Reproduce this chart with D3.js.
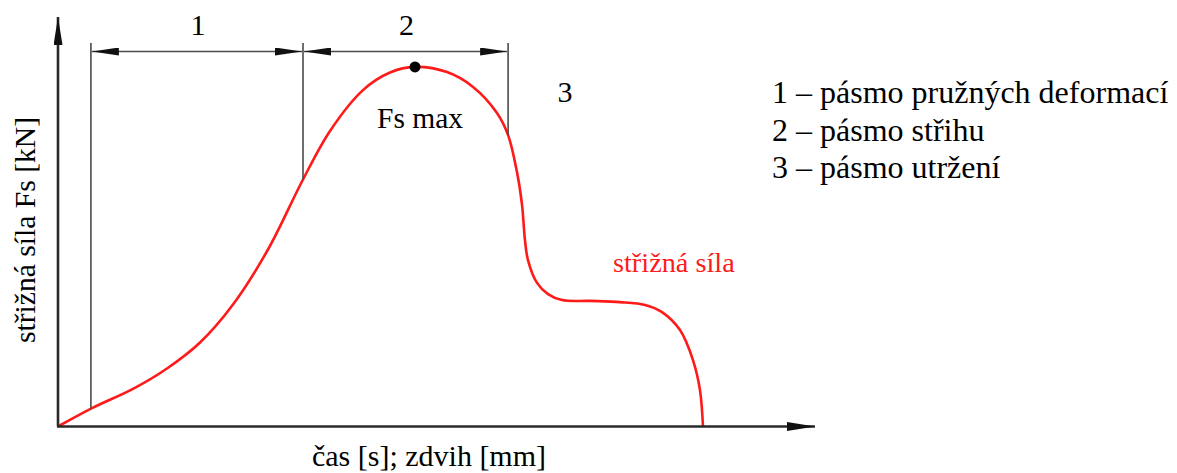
<!DOCTYPE html>
<html>
<head>
<meta charset="utf-8">
<script src="https://cdn.jsdelivr.net/npm/d3@7"></script>
<style>
  html, body { margin: 0; padding: 0; background: #fff; }
  svg { display: block; }
</style>
</head>
<body>
<svg id="chart" width="1177" height="473"></svg>
<script>
// Shear force over time / ram stroke (schematic units)
const timeValues  = [0, 4.86, 10.71, 15.57, 20.29, 25.0, 30.0, 35.0, 38.86, 43.57, 47.43, 51.0, 55.57, 59.29, 62.71, 64.29, 65.57, 66.29, 66.71, 67.14, 68.43, 70.0, 72.0, 76.0, 80.29, 83.86, 86.29, 88.86, 90.71, 91.71, 92.14];
const forceValues = [0, 4.6, 9.4, 14.5, 21.0, 30.5, 44.25, 61.75, 73.9, 84.1, 88.5, 89.9, 88.6, 84.9, 78.4, 72.9, 63.6, 55.4, 46.6, 41.6, 35.9, 33.1, 31.6, 31.4, 31.1, 30.4, 28.6, 24.1, 16.6, 9.1, 0];

// Zone boundaries along the time axis and their labels
const zoneBounds = [4.7, 35.0, 64.3];
const zoneLabels = ["1", "2", "3"];

// Legend lines
const legendItems = [
  "1 – pásmo pružných deformací",
  "2 – pásmo střihu",
  "3 – pásmo utržení"
];

const axisTitleX = "čas [s]; zdvih [mm]";
const axisTitleY = "střižná síla Fs [kN]";
const seriesLabel = "střižná síla";
const peakLabel = "Fs max";

const FONT = '"Liberation Serif", "Times New Roman", Tinos, serif';

const svg = d3.select("#chart");

const x = d3.scaleLinear().domain([0, 100]).range([58, 758]);
const y = d3.scaleLinear().domain([0, 100]).range([426.5, 26.5]);

const axisColor = "#2a2a2a";
const guideColor = "#4a4a4a";
const red = "#ff1a1a";

function label(x0, y0, txt, size, opts = {}) {
  return svg.append("text")
    .attr("x", x0).attr("y", y0)
    .attr("text-anchor", opts.anchor || "start")
    .attr("fill", opts.fill || "#000")
    .style("font-family", FONT)
    .style("font-size", size + "px")
    .text(txt);
}

// arrowhead markers
const defs = svg.append("defs");
function marker(id, len, half, color) {
  defs.append("marker")
    .attr("id", id)
    .attr("viewBox", `0 ${-half} ${len} ${2 * half}`)
    .attr("refX", len).attr("refY", 0)
    .attr("markerWidth", len).attr("markerHeight", 2 * half)
    .attr("markerUnits", "userSpaceOnUse")
    .attr("orient", "auto-start-reverse")
    .append("path")
    .attr("d", `M0,${-half}L${len},0L0,${half}Z`)
    .attr("fill", color);
}
marker("axisArrow", 28, 4.5, "#111");
marker("dimArrow", 27, 4, "#111");

// shear force curve
const line = d3.line()
  .x((d, i) => x(timeValues[i]))
  .y(d => y(d))
  .curve(d3.curveCatmullRom.alpha(0.5));

const curve = svg.append("path")
  .attr("d", line(forceValues))
  .attr("fill", "none")
  .attr("stroke", red)
  .attr("stroke-width", 2.6);

// curve height at a given x, found by walking the rendered path
const pathNode = curve.node();
const totalLen = pathNode.getTotalLength();
function curveYAt(px) {
  let lo = 0, hi = totalLen;
  for (let k = 0; k < 40; k++) {
    const mid = (lo + hi) / 2;
    if (pathNode.getPointAtLength(mid).x < px) lo = mid; else hi = mid;
  }
  return pathNode.getPointAtLength((lo + hi) / 2).y;
}

// zone boundary lines
const topY = 43;
const dimY = 51.5;
zoneBounds.forEach(b => {
  svg.append("line")
    .attr("x1", x(b)).attr("x2", x(b))
    .attr("y1", topY).attr("y2", curveYAt(x(b)))
    .attr("stroke", guideColor).attr("stroke-width", 1.6);
});

// dimension arrows for zones 1 and 2
for (let i = 0; i < zoneBounds.length - 1; i++) {
  const x1 = x(zoneBounds[i]) + 1, x2 = x(zoneBounds[i + 1]) - 1;
  svg.append("line")
    .attr("x1", x1).attr("x2", x2)
    .attr("y1", dimY).attr("y2", dimY)
    .attr("stroke", guideColor).attr("stroke-width", 1.6)
    .attr("marker-start", "url(#dimArrow)")
    .attr("marker-end", "url(#dimArrow)");
  label((x(zoneBounds[i]) + x(zoneBounds[i + 1])) / 2 + 1, 35, zoneLabels[i], 30, { anchor: "middle" });
}
// label of zone 3 beyond the last boundary
label(565, 102, zoneLabels[2], 30, { anchor: "middle" });

// axes
svg.append("line")
  .attr("x1", x(0)).attr("y1", y(0))
  .attr("x2", x(0)).attr("y2", 17)
  .attr("stroke", axisColor).attr("stroke-width", 2.6)
  .attr("marker-end", "url(#axisArrow)");
svg.append("line")
  .attr("x1", x(0) - 1).attr("y1", y(0))
  .attr("x2", 815).attr("y2", y(0))
  .attr("stroke", axisColor).attr("stroke-width", 2.6)
  .attr("marker-end", "url(#axisArrow)");

// peak point
const peakIdx = d3.maxIndex(forceValues);
svg.append("circle")
  .attr("cx", x(timeValues[peakIdx]))
  .attr("cy", y(forceValues[peakIdx]))
  .attr("r", 5.5)
  .attr("fill", "#000");
label(x(timeValues[peakIdx]) + 5, 128, peakLabel, 29.5, { anchor: "middle" });

// series label
label(613, 272, seriesLabel, 28.3, { fill: red });

// axis titles
label(429, 466, axisTitleX, 30, { anchor: "middle" });
label(0, 0, axisTitleY, 29.6, { anchor: "middle" })
  .attr("transform", "translate(35,230) rotate(-90)");

// legend
legendItems.forEach((d, i) => label(772, 103 + i * 37.5, d, 32));
</script>
</body>
</html>
